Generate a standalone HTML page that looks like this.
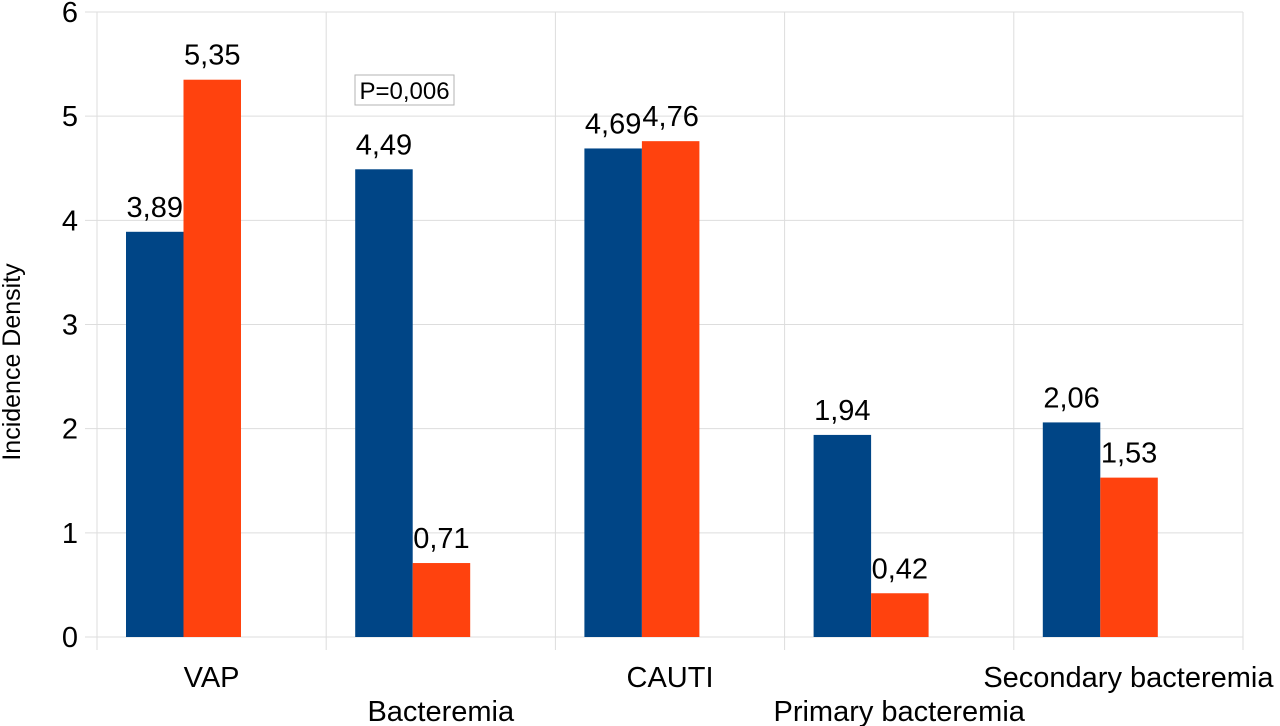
<!DOCTYPE html>
<html><head><meta charset="utf-8"><style>
html,body{margin:0;padding:0;background:#fff;}
svg{display:block;font-family:"Liberation Sans",sans-serif;}
</style></head><body>
<svg id="chart" width="1280" height="726" viewBox="0 0 1280 726"></svg>
<script>
const categories = ["VAP","Bacteremia","CAUTI","Primary bacteremia","Secondary bacteremia"];
const seriesA = [3.89,4.49,4.69,1.94,2.06];
const seriesB = [5.35,0.71,4.76,0.42,1.53];
const labelsA = ["3,89","4,49","4,69","1,94","2,06"];
const labelsB = ["5,35","0,71","4,76","0,42","1,53"];
const yTicks = [0,1,2,3,4,5,6];

const svg = document.getElementById('chart');
const NS = 'http://www.w3.org/2000/svg';
const x0 = 97, x1 = 1243, yBase = 637, yTop = 12, yMax = 6;
const catW = (x1 - x0) / categories.length;
const y = v => yBase - v / yMax * (yBase - yTop);
const xCat = i => x0 + i * catW;
function mk(tag, attrs, parent) {
  const e = document.createElementNS(NS, tag);
  for (const k in attrs) e.setAttribute(k, attrs[k]);
  (parent || svg).appendChild(e);
  return e;
}
yTicks.forEach(t => {
  const l = mk('line', {x1: 85, x2: x1, y1: y(t), y2: y(t), stroke: '#dddddd', 'stroke-width': 1});
  
  
  const tx = mk('text', {x: 78, y: y(t) + 10, 'text-anchor': 'end', 'font-size': 29, fill: '#000'});
  tx.textContent = t;
  
  
});
for (let i = 0; i <= categories.length; i++) {
  const l = mk('line', {x1: xCat(i), x2: xCat(i), y1: yTop, y2: 650, stroke: '#dddddd', 'stroke-width': 1});
  
  
}
const barW = 57.5;
categories.forEach((c, i) => {
  const bx = xCat(i) + 29;
  const ra = mk('rect', {x: bx, y: y(seriesA[i]), width: barW, height: yBase - y(seriesA[i]), fill: '#004586'});
  
  
  const rb = mk('rect', {x: bx + barW, y: y(seriesB[i]), width: barW, height: yBase - y(seriesB[i]), fill: '#ff420e'});
  
  
  const la = mk('text', {x: bx + barW / 2, y: y(seriesA[i]) - 15, 'text-anchor': 'middle', 'font-size': 29});
  la.textContent = labelsA[i];
  
  
  const lb = mk('text', {x: bx + barW * 1.5, y: y(seriesB[i]) - 15, 'text-anchor': 'middle', 'font-size': 29});
  lb.textContent = labelsB[i];
  
  
  const cl = mk('text', {x: xCat(i) + catW / 2, y: i % 2 === 0 ? 687 : 721, 'text-anchor': 'middle', 'font-size': 29});
  cl.textContent = c;
  
  
});
const yt = mk('text', {x: 0, y: 0, transform: 'translate(20,362) rotate(-90)', 'text-anchor': 'middle', 'font-size': 25});
yt.textContent = 'Incidence Density';


const pb = mk('rect', {x: 355, y: 75, width: 99, height: 30, fill: '#fff', stroke: '#b3b3b3', 'stroke-width': 1});


const pt = mk('text', {x: 404.5, y: 99, 'text-anchor': 'middle', 'font-size': 24});
pt.textContent = 'P=0,006';


</script>
</body></html>
